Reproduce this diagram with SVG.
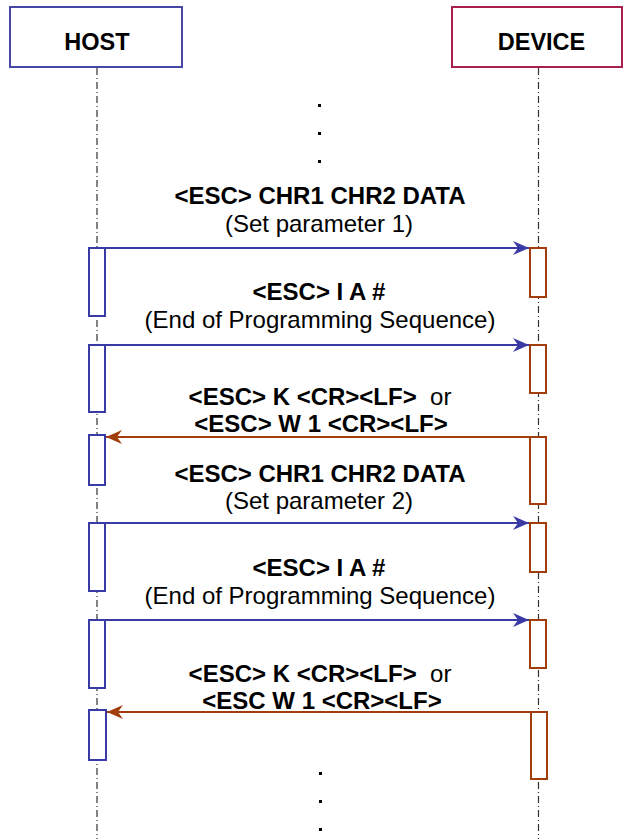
<svg xmlns="http://www.w3.org/2000/svg" width="623" height="839" viewBox="0 0 623 839">
<style>
.hdr{fill:#fff;stroke-width:2}
.ht{font-family:"Liberation Sans",Arial,sans-serif;font-weight:bold;font-size:23.5px;fill:#000;text-anchor:middle}
.life{stroke:#333;stroke-width:1.2;stroke-dasharray:7 3 1 3;fill:none}
.hact{fill:#fff;stroke:#3a3aa6;stroke-width:2}
.dact{fill:#fff;stroke:#a23e0c;stroke-width:2}
.req{stroke:#3a3aa6;stroke-width:2;fill:none;marker-end:url(#ab)}
.rep{stroke:#a23e0c;stroke-width:2;fill:none;marker-end:url(#ar)}
.b{font-family:"Liberation Sans",Arial,sans-serif;font-weight:bold;font-size:24px;fill:#000;text-anchor:middle}
.r{font-family:"Liberation Sans",Arial,sans-serif;font-size:24px;fill:#000;text-anchor:middle}
.nw{font-weight:normal}
.dot{fill:#000}
</style>
<defs>
<marker id="ab" markerWidth="18" markerHeight="16" refX="16" refY="7" orient="auto" markerUnits="userSpaceOnUse"><path d="M0,0 L16,7 L0,14 L5,7 Z" fill="#3a3aa6"/></marker>
<marker id="ar" markerWidth="18" markerHeight="16" refX="16" refY="7" orient="auto" markerUnits="userSpaceOnUse"><path d="M0,0 L16,7 L0,14 L5,7 Z" fill="#a23e0c"/></marker>
</defs>
<g id="lifelines">
<line class="life" x1="97" y1="68" x2="97" y2="839"/>
<line class="life" x1="538.5" y1="68" x2="538.5" y2="839"/>
</g>
<g id="host">
<rect class="hdr" x="10" y="7" width="172" height="60" stroke="#4646a8"/>
<text class="ht" x="97" y="50">HOST</text>
</g>
<g id="device">
<rect class="hdr" x="452" y="7" width="170" height="60" stroke="#a8204e"/>
<text class="ht" x="541.5" y="50">DEVICE</text>
</g>
<g id="host-activations">
<rect class="hact" x="89" y="248" width="16" height="68"/>
<rect class="hact" x="89" y="345" width="16" height="67"/>
<rect class="hact" x="89" y="435" width="16" height="50"/>
<rect class="hact" x="89" y="523" width="16" height="68"/>
<rect class="hact" x="89" y="620" width="16" height="68"/>
<rect class="hact" x="89" y="710" width="17" height="50"/>
</g>
<g id="device-activations">
<rect class="dact" x="530" y="248" width="16" height="49"/>
<rect class="dact" x="530" y="345" width="16" height="48"/>
<rect class="dact" x="530" y="437" width="16" height="67"/>
<rect class="dact" x="530" y="523" width="16" height="49"/>
<rect class="dact" x="530" y="620" width="16" height="48"/>
<rect class="dact" x="531" y="712" width="16" height="67"/>
</g>
<g id="connectors">
<line class="req" x1="105" y1="248" x2="529" y2="248"/>
<line class="req" x1="105" y1="345" x2="529" y2="345"/>
<line class="rep" x1="530" y1="437" x2="106" y2="437"/>
<line class="req" x1="105" y1="523" x2="529" y2="523"/>
<line class="req" x1="105" y1="620" x2="529" y2="620"/>
<line class="rep" x1="530" y1="712" x2="107" y2="712"/>
</g>
<g id="labels">
<text class="b" x="320" y="204">&lt;ESC&gt; CHR1 CHR2 DATA</text>
<text class="r" x="319" y="232">(Set parameter 1)</text>
<text class="b" x="319" y="300">&lt;ESC&gt; I A #</text>
<text class="r" x="320" y="328">(End of Programming Sequence)</text>
<text class="b" x="320" y="405" xml:space="preserve">&lt;ESC&gt; K &lt;CR&gt;&lt;LF&gt;  <tspan class="nw">or</tspan></text>
<text class="b" x="321" y="432">&lt;ESC&gt; W 1 &lt;CR&gt;&lt;LF&gt;</text>
<text class="b" x="320" y="482">&lt;ESC&gt; CHR1 CHR2 DATA</text>
<text class="r" x="319" y="509">(Set parameter 2)</text>
<text class="b" x="319" y="576">&lt;ESC&gt; I A #</text>
<text class="r" x="320" y="604">(End of Programming Sequence)</text>
<text class="b" x="320" y="682" xml:space="preserve">&lt;ESC&gt; K &lt;CR&gt;&lt;LF&gt;  <tspan class="nw">or</tspan></text>
<text class="b" x="322" y="709">&lt;ESC W 1 &lt;CR&gt;&lt;LF&gt;</text>
</g>
<g id="ellipsis">
<rect class="dot" x="318" y="104" width="3" height="3"/>
<rect class="dot" x="318" y="132" width="3" height="3"/>
<rect class="dot" x="318" y="160" width="3" height="3"/>
<rect class="dot" x="319" y="772" width="3" height="3"/>
<rect class="dot" x="319" y="800" width="3" height="3"/>
<rect class="dot" x="319" y="828" width="3" height="3"/>
</g>
</svg>
